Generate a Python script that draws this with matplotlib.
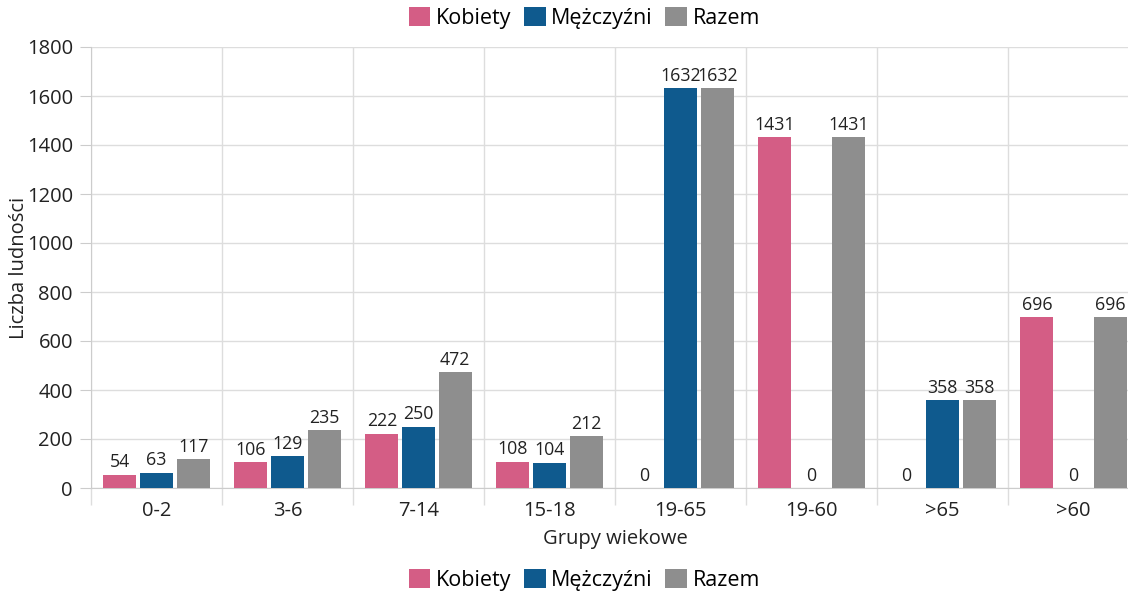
import matplotlib
matplotlib.use("Agg")
import matplotlib.pyplot as plt
import numpy as np
from matplotlib.patches import Patch

categories = ["0-2", "3-6", "7-14", "15-18", "19-65", "19-60", ">65", ">60"]
kobiety = [54, 106, 222, 108, 0, 1431, 0, 696]
mezczyzni = [63, 129, 250, 104, 1632, 0, 358, 0]
razem = [117, 235, 472, 212, 1632, 1431, 358, 696]
series_names = ["Kobiety", "Mężczyźni", "Razem"]
colors = ["#d45d85", "#0f5a8e", "#8e8e8e"]

plt.rcParams['font.family'] = ['Open Sans', 'DejaVu Sans']
fig = plt.figure(figsize=(11.28, 5.94), dpi=100)
ax_left, ax_w = 91/1128, (1139-91)/1128
ax = fig.add_axes([ax_left, 1-488/594, ax_w, (488-47)/594])

x = np.arange(len(categories))
w = 0.25
step = 0.28
for i, (vals, c) in enumerate(zip([kobiety, mezczyzni, razem], colors)):
    pos = x + (i - 1) * step
    ax.bar(pos, vals, width=w, color=c, zorder=3)
    for xp, v in zip(pos, vals):
        ax.text(xp, v + 14, str(v), ha='center', va='bottom', fontsize=12.8, color='#222222', zorder=4)

ax.set_xlim(-0.5, len(categories) - 0.5)
ax.set_ylim(0, 1800)
ax.set_yticks(np.arange(0, 1801, 200))
ax.set_xticks(x)
ax.set_xticklabels(categories)
ax.set_xticks(np.arange(-0.5, len(categories), 1), minor=True)
ax.tick_params(axis='x', which='major', length=0, pad=9, labelsize=14.5, colors='#222222')
ax.tick_params(axis='x', which='minor', length=12, color='#dddddd', width=1)
ax.tick_params(axis='y', length=8, color='#cccccc', labelsize=14.5, labelcolor='#222222', pad=5)
ax.grid(axis='y', color='#dddddd', linewidth=1, zorder=0)
ax.grid(axis='x', which='minor', color='#dddddd', linewidth=1, zorder=0)
for s in ['top', 'right']:
    ax.spines[s].set_visible(False)
ax.spines['left'].set_color('#cccccc')
ax.spines['bottom'].set_color('#cccccc')
ax.set_ylabel("Liczba ludności", fontsize=14.5, color='#222222', va='center')
ax.yaxis.set_label_coords((19 - 91) / 1048, 0.5)
ax.set_xlabel("Grupy wiekowe", fontsize=14.5, color='#222222', labelpad=6)

handles = [Patch(facecolor=c, label=n) for c, n in zip(colors, series_names)]
for yy in [1-18/594, 1-580/594]:
    fig.legend(handles=handles, loc='center', bbox_to_anchor=(0.518, yy), ncol=3, frameon=False,
               fontsize=15.5, handlelength=1.0, handleheight=1.0, handletextpad=0.25, columnspacing=0.6)

fig.savefig("out.png", dpi=100)
